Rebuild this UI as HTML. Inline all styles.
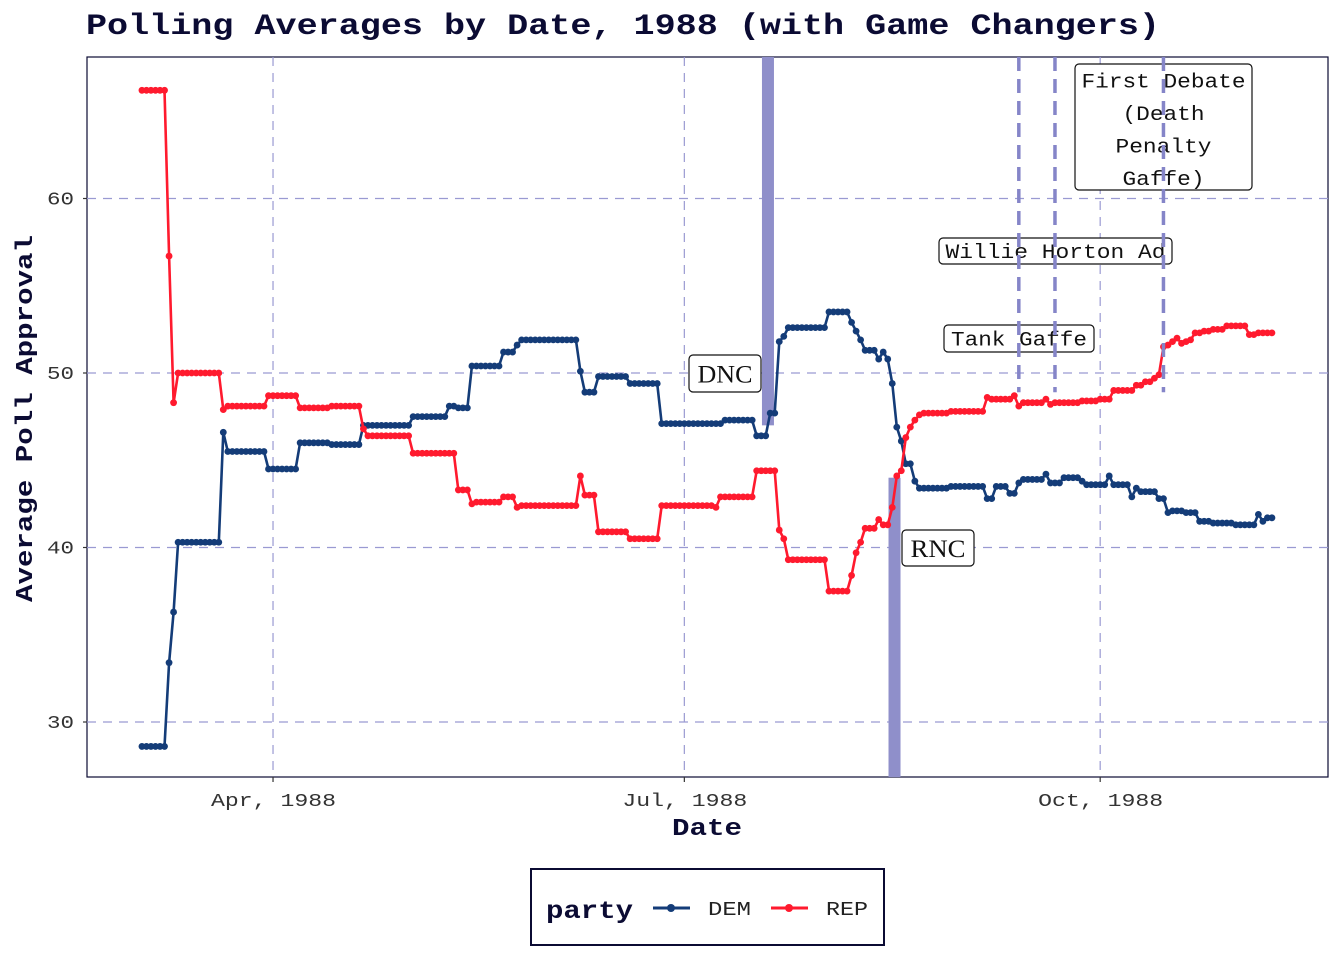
<!DOCTYPE html>
<html><head><meta charset="utf-8"><style>
html,body{margin:0;padding:0;background:#fff;}
svg{display:block;}
</style></head><body>
<svg id="chart" width="1344" height="960" viewBox="0 0 1344 960" xmlns="http://www.w3.org/2000/svg" font-family="Liberation Mono, monospace">
<text x="86" y="34" font-size="30" font-weight="bold" fill="#0b0b33" textLength="1074" lengthAdjust="spacingAndGlyphs">Polling Averages by Date, 1988 (with Game Changers)</text>
<rect x="87" y="57" width="1241" height="720" fill="#fff" stroke="#0b0b33" stroke-width="1.2"/>
<g id="grid"></g>
<g id="events"></g>
<g id="series"></g>
<g id="labels"></g>
<g id="axes"></g>
<text x="672" y="835" font-size="24" font-weight="bold" fill="#0b0b33" textLength="70" lengthAdjust="spacingAndGlyphs">Date</text>
<text transform="translate(32,602) rotate(-90)" font-size="24" font-weight="bold" fill="#0b0b33" textLength="367" lengthAdjust="spacingAndGlyphs">Average Poll Approval</text>
<g>
<rect x="531" y="869" width="353" height="76" fill="#fff" stroke="#0b0b33" stroke-width="2"/>
<text x="546" y="918" font-size="25" font-weight="bold" fill="#0b0b33" textLength="87" lengthAdjust="spacingAndGlyphs">party</text>
<g>
<line x1="653" y1="908" x2="690" y2="908" stroke="#143c78" stroke-width="3"/><circle cx="671" cy="908" r="4" fill="#143c78"/>
<text x="708" y="915" font-size="19" fill="#222" textLength="43" lengthAdjust="spacingAndGlyphs">DEM</text></g>
<g>
<line x1="771" y1="908" x2="808" y2="908" stroke="#ff1a2e" stroke-width="3"/><circle cx="789" cy="908" r="4" fill="#ff1a2e"/>
<text x="826" y="915" font-size="19" fill="#222" textLength="42" lengthAdjust="spacingAndGlyphs">REP</text></g>
</g>
</svg>
<script>
// day offsets counted from 1988-03-01; each run holds a value from its start day to the next start
const demRunStartDay=[2,8,9,10,20,21,30,37,44,51,62,70,72,75,82,85,86,99,100,103,110,117,131,138,141,143,144,145,154,159,160,161,162,165,166,167,168,169,170,171,173,174,181,189,191,194,196,197,202,203,206,210,211,216,217,221,222,223,227,229,230,233,236,239,244,249,250,251];
const demRunValue=[28.6,33.4,36.3,40.3,46.6,45.5,44.5,46.0,45.9,47.0,47.5,48.1,48.0,50.4,51.2,51.6,51.9,50.1,48.9,49.8,49.4,47.1,47.3,46.4,47.7,51.8,52.1,52.6,53.5,52.9,52.4,51.9,51.3,50.8,51.2,50.8,49.4,46.9,46.1,44.8,43.8,43.4,43.5,42.8,43.5,43.1,43.7,43.9,44.2,43.7,44.0,43.8,43.6,44.1,43.6,42.9,43.4,43.2,42.8,42.0,42.1,42.0,41.5,41.4,41.3,41.9,41.5,41.7];
const repRunStartDay=[2,8,9,10,20,21,30,37,44,51,52,62,72,75,76,82,85,86,99,100,103,110,117,129,130,138,143,144,145,154,159,160,161,162,165,166,168,169,170,171,172,173,174,175,181,189,190,195,196,197,202,203,204,210,214,217,222,224,226,227,228,229,230,231,232,233,234,235,237,239,242,247,249];
const repRunValue=[66.2,56.7,48.3,50.0,47.9,48.1,48.7,48.0,48.1,46.8,46.4,45.4,43.3,42.5,42.6,42.9,42.3,42.4,44.1,43.0,40.9,40.5,42.4,42.3,42.9,44.4,41.0,40.5,39.3,37.5,38.4,39.7,40.3,41.1,41.6,41.3,42.3,44.1,44.4,46.3,46.9,47.3,47.6,47.7,47.8,48.6,48.5,48.7,48.1,48.3,48.5,48.2,48.3,48.4,48.5,49.0,49.3,49.5,49.7,49.9,51.5,51.6,51.8,52.0,51.7,51.8,51.9,52.3,52.4,52.5,52.7,52.2,52.3];
const lastDay=252;
const yTicks=[30,40,50,60];
const xTickLabels=["Apr, 1988","Jul, 1988","Oct, 1988"];
const xTickDays=[31,122,214];
const conventionNames=["DNC","RNC"];
const conventionDays=[[140,141],[168,169]];
const eventNames=["Tank Gaffe","Willie Horton Ad","First Debate (Death Penalty Gaffe)"];
const eventDays=[196,204,228];

const NS="http://www.w3.org/2000/svg";
const X0=132.9, PXD=4.52;
function xs(d){return X0+d*PXD;}
function ys(v){return 373-(v-50)*17.45;}
function mk(tag,attrs,parent){const e=document.createElementNS(NS,tag);for(const k in attrs)e.setAttribute(k,attrs[k]);parent.appendChild(e);return e;}
const grid=document.getElementById('grid'),axes=document.getElementById('axes'),series=document.getElementById('series'),events=document.getElementById('events'),labels=document.getElementById('labels');

yTicks.forEach(v=>{
  const g=mk('line',{x1:87,x2:1328,y1:ys(v),y2:ys(v),stroke:'#9a9ad2','stroke-width':1.2,'stroke-dasharray':'9 7'},grid);
  
  
  const t=mk('text',{x:74,y:ys(v)+6,'font-size':18,'text-anchor':'end',fill:'#333',textLength:27,lengthAdjust:'spacingAndGlyphs'},axes);
  t.textContent=v;
  
  
  mk('line',{x1:83,x2:87,y1:ys(v),y2:ys(v),stroke:'#333','stroke-width':1.2},axes);
});
xTickDays.forEach((d,i)=>{
  const g=mk('line',{x1:xs(d),x2:xs(d),y1:57,y2:777,stroke:'#9a9ad2','stroke-width':1.2,'stroke-dasharray':'9 7'},grid);
  
  
  mk('line',{x1:xs(d),x2:xs(d),y1:777,y2:782,stroke:'#333','stroke-width':1.2},axes);
  const t=mk('text',{x:xs(d)-62,y:806,'font-size':18,fill:'#333',textLength:125,lengthAdjust:'spacingAndGlyphs'},axes);
  t.textContent=xTickLabels[i];
  
  
});

const bandTop=[57,ys(44)], bandBot=[ys(47),777];
conventionDays.forEach((r,i)=>{
  const x=xs(r[0])+(xs(r[1])-xs(r[0]))/2-6;
  const b=mk('rect',{x:x,y:bandTop[i],width:12,height:bandBot[i]-bandTop[i],fill:'#8f8fca'},events);
  
  
});
eventDays.forEach((d,i)=>{
  const l=mk('line',{x1:xs(d),x2:xs(d),y1:57,y2:ys(48.9),stroke:'#8585c8','stroke-width':3.5,'stroke-dasharray':'14 8'},labels);
  
  
});

function expand(starts,vals){
  const pts=[];
  for(let i=0;i<starts.length;i++){
    const end=i+1<starts.length?starts[i+1]:lastDay+1;
    for(let d=starts[i];d<end;d++)pts.push([d,vals[i]]);
  }
  return pts;
}
function drawSeries(starts,vals,color,name){
  const pts=expand(starts,vals);
  const p=mk('polyline',{points:pts.map(q=>xs(q[0]).toFixed(1)+','+ys(q[1]).toFixed(1)).join(' '),fill:'none',stroke:color,'stroke-width':2.6,'stroke-linejoin':'round'},series);
  
  
  pts.forEach(q=>{
    const c=mk('circle',{cx:xs(q[0]),cy:ys(q[1]),r:3.4,fill:color},series);
    
    
  });
}
drawSeries(demRunStartDay,demRunValue,'#143c78','dem');
drawSeries(repRunStartDay,repRunValue,'#ff1a2e','rep');

function box(x,y,w,h,lines,fs,family,name,lh,widths){
  const g=mk('g',{},labels);
  
  
  mk('rect',{x:x,y:y,width:w,height:h,rx:4,fill:'#fff',stroke:'#111','stroke-width':1.2},g);
  lines.forEach((s,i)=>{
    const tw=widths[i];
    const t=mk('text',{x:x+w/2-tw/2,y:y+(lh?lh*(i+1)-9:h/2+fs*0.36),'font-size':fs,fill:'#111','font-family':family,textLength:tw,lengthAdjust:'spacingAndGlyphs'},g);
    t.textContent=s;
  });
  return g;
}
const lbl=[
 box(689,355,72,37,[conventionNames[0]],25,'Liberation Serif, serif','dnc-label',0,[55]),
 box(902,530,72,36,[conventionNames[1]],25,'Liberation Serif, serif','rnc-label',0,[55]),
 box(944,325,150,27,[eventNames[0]],20,'Liberation Mono, monospace','tank-gaffe-label',0,[136]),
 box(939,238,233,26,[eventNames[1]],20,'Liberation Mono, monospace','willie-horton-label',0,[220]),
 box(1075,64,177,126,["First Debate","(Death","Penalty","Gaffe)"],20,'Liberation Mono, monospace','first-debate-label',32.5,[164,82,96,82])
];
lbl.forEach(g=>labels.insertBefore(g,labels.firstChild));
</script>
</body></html>
